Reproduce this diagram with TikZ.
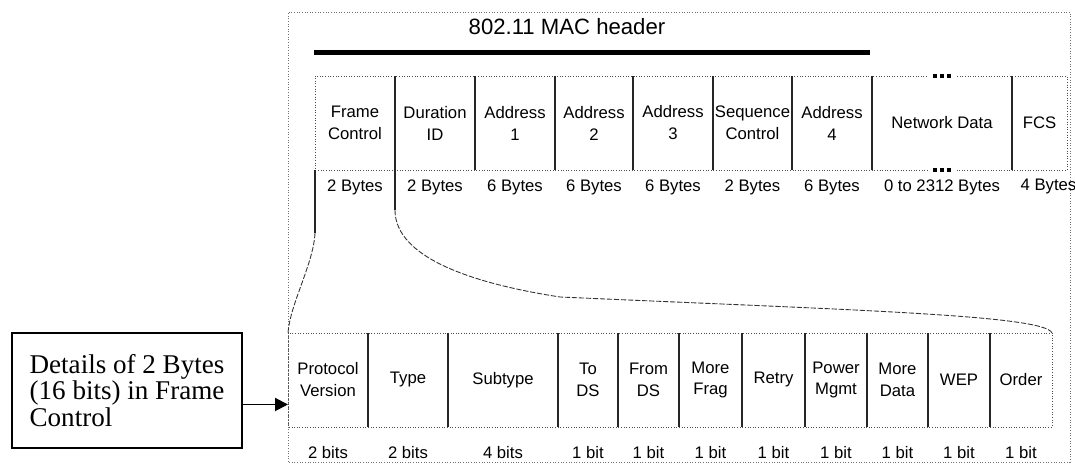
\documentclass[tikz,border=0pt]{standalone}
\usepackage{fontspec}
\setmainfont{Liberation Serif}
\setsansfont{Liberation Sans}
\usepackage{tikz}
\usetikzlibrary{arrows.meta,calc}

\begin{document}
\begin{tikzpicture}[
  font=\sffamily\fontsize{9.5}{12.5}\selectfont,
  >={Triangle[length=0.26cm,width=0.26cm]},
  cell/.style={inner sep=0pt, outer sep=0pt, align=center},
  rowline/.style={densely dotted, black!70, line width=0.5pt},
  divider/.style={black!85, line width=0.6pt},
  link/.style={black!80, line width=0.5pt, dash pattern=on 3pt off 1pt},
  detailbox/.style={draw, line width=1.1pt, minimum width=4.6cm, minimum height=2.3cm,
    inner sep=0pt, align=left, font=\rmfamily\fontsize{15.4}{12.7}\selectfont},
]
  \useasboundingbox (0,0) rectangle (21.5,9.28);

  % Outer frame
  \draw[densely dotted, black!55, line width=0.5pt] (5.76,0.04) rectangle (21.40,9.04);

  % Header title and bar
  \node[font=\sffamily\fontsize{12.6}{15}\selectfont] (title) at (11.34,8.74) {802.11 MAC header};
  \draw[line width=0.1cm] (6.28,8.22) -- (17.40,8.22);

  % MAC header fields
  \foreach \a/\b/\lbl/\sz/\dx [count=\i] in {
    6.30/7.90/{Frame\\Control}/{2 Bytes}/0,
    7.90/9.50/{Duration\\ID}/{2 Bytes}/0,
    9.50/11.10/{Address\\1}/{6 Bytes}/0,
    11.10/12.66/{Address\\2}/{6 Bytes}/0,
    12.66/14.26/{Address\\3}/{6 Bytes}/0,
    14.26/15.84/{Sequence\\Control}/{2 Bytes}/0,
    15.84/17.44/{Address\\4}/{6 Bytes}/0,
    17.44/20.24/{Network Data}/{0 to 2312 Bytes}/0,
    20.24/21.34/{FCS}/{4 Bytes}/0.18} {
    \node[cell, minimum width={(\b-\a)*1cm}, minimum height=1.88cm] (t\i) at ({(\a+\b)/2},6.82) {\lbl};
    \node[cell] (ts\i) at ([xshift=\dx cm, yshift=-0.34cm]t\i.south) {\sz};
  }
  \draw[rowline] ([xshift=-0.3cm]t8.north) -- (t1.north west) -- (t1.south west) -- ([xshift=-0.3cm]t8.south);
  \draw[rowline] ([xshift=0.3cm]t8.north) -- (t9.north east) -- (t9.south east) -- ([xshift=0.3cm]t8.south);
  \foreach \i in {2,...,9}
    \draw[divider] (t\i.north west) -- (t\i.south west);
  % dots in the data field
  \foreach \d in {-0.14,0,0.14} {
    \fill ([xshift=\d cm]t8.north) +(-0.035,-0.035) rectangle +(0.035,0.035);
    \fill ([xshift=\d cm]t8.south) +(-0.035,-0.035) rectangle +(0.035,0.035);
  }

  % Frame control bits
  \foreach \a/\b/\lbl/\sz [count=\i] in {
    5.76/7.36/{Protocol\\Version}/{2 bits},
    7.36/8.96/{Type}/{2 bits},
    8.96/11.16/{Subtype}/{4 bits},
    11.16/12.36/{To\\DS}/{1 bit},
    12.36/13.58/{From\\DS}/{1 bit},
    13.58/14.84/{More\\Frag}/{1 bit},
    14.84/16.10/{Retry}/{1 bit},
    16.10/17.34/{Power\\Mgmt}/{1 bit},
    17.34/18.56/{More\\Data}/{1 bit},
    18.56/19.80/{WEP}/{1 bit},
    19.80/21.04/{Order}/{1 bit}} {
    \node[cell, minimum width={(\b-\a)*1cm}, minimum height=1.88cm] (b\i) at ({(\a+\b)/2},1.68) {\lbl};
    \node[cell] (bs\i) at ([yshift=-0.52cm]b\i.south) {\sz};
  }
  \draw[rowline] (b1.north west) rectangle (b11.south east);
  \foreach \i in {2,...,11}
    \draw[divider] (b\i.north west) -- (b\i.south west);

  % Zoom lines from Frame Control
  \coordinate (lbend) at ($(t1.south west)+(0,-1.26)$);
  \coordinate (rbend) at ($(t1.south east)+(0,-0.8)$);
  \draw[divider] (t1.south west) -- (lbend);
  \draw[link] (lbend) .. controls ($(lbend)+(-0.03,-0.62)$) and (5.80,3.2) .. (b1.north west);
  \draw[divider] (t1.south east) -- (rbend);
  \draw[link] (rbend) .. controls ($(rbend)+(0,-0.8)$) and (9.0,3.68) .. (11.2,3.34)
    .. controls (17.0,3.08) and (20.9,2.98) .. (b11.north east);

  % Note box
  \node[detailbox] (fcbox) at (2.54,1.47) {Details of 2 Bytes\\(16 bits) in Frame\\Control};
  \coordinate (arrowy) at ([yshift=-0.28cm]fcbox.east);
  \draw[->, line width=1.1pt] (arrowy) -- (arrowy -| b1.west);
\end{tikzpicture}
\end{document}
